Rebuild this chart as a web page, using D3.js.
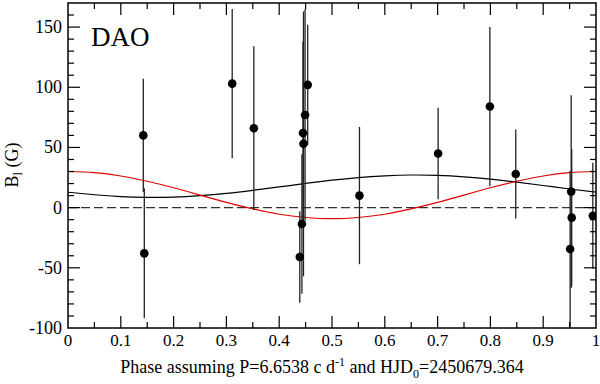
<!DOCTYPE html>
<html>
<head>
<meta charset="utf-8">
<script src="https://cdn.jsdelivr.net/npm/d3@7"></script>
<style>
  body { margin: 0; background: #fff; }
</style>
</head>
<body>
<svg id="chart" width="600" height="384" font-family="'Liberation Serif', 'Times New Roman', Times, 'DejaVu Serif', serif"></svg>
<script>
// observed phases, field and errors
var phase = [0.1426, 0.1445, 0.311, 0.352, 0.439, 0.443, 0.445, 0.446, 0.449, 0.454,
             0.552, 0.701, 0.799, 0.848, 0.951, 0.953, 0.954, 0.994];
var field = [60, -38, 103, 66, -41, -13.6, 62, 53, 77, 102,
             10, 45, 84, 28, -34.4, 13.3, -8.3, -6.7];
var fieldErr = [47, 54, 62, 68, 38, 58, 76, 110, 88, 50,
                57, 38, 66, 37, 65, 80, 57, 44];

// fitted curves
var curvePhase = [0, 0.05, 0.1, 0.15, 0.2, 0.25, 0.3, 0.35, 0.4, 0.45, 0.5,
                  0.55, 0.6, 0.65, 0.7, 0.75, 0.8, 0.85, 0.9, 0.95, 1];
var blackCurve = [12.8, 10.7, 9.2, 8.6, 8.8, 10, 11.9, 14.4, 17.2, 20.1, 22.8,
                  25, 26.4, 27.1, 26.8, 25.6, 23.7, 21.2, 18.4, 15.5, 12.8];
var redCurve = [30, 29, 26.3, 21.9, 16.5, 10.4, 4.3, -1.1, -5.5, -8.2, -9.2,
                -8.2, -5.5, -1.1, 4.3, 10.4, 16.5, 21.9, 26.3, 29, 30];

var xTicks = [0, 0.1, 0.2, 0.3, 0.4, 0.5, 0.6, 0.7, 0.8, 0.9, 1];
var yTicks = [-100, -50, 0, 50, 100, 150];

var svg = d3.select("#chart");
var pLeft = 68, pRight = 596, pTop = 3, pBottom = 328;

var x = d3.scaleLinear().domain([0, 1]).range([pLeft, pRight]);
var y = d3.scaleLinear().domain([-100, 170]).range([pBottom, pTop]);

svg.append("clipPath").attr("id", "plotclip")
    .append("rect")
    .attr("x", pLeft).attr("y", pTop)
    .attr("width", pRight - pLeft).attr("height", pBottom - pTop);

var plot = svg.append("g").attr("clip-path", "url(#plotclip)");

// zero line
plot.append("line")
    .attr("x1", pLeft).attr("x2", pRight)
    .attr("y1", y(0)).attr("y2", y(0))
    .style("stroke", "#333")
    .style("stroke-width", 1.2)
    .style("stroke-dasharray", "9,4");

var line = d3.line()
    .x(function(d) { return x(d[0]); })
    .y(function(d) { return y(d[1]); })
    .curve(d3.curveNatural);

plot.append("path")
    .attr("d", line(d3.zip(curvePhase, blackCurve)))
    .style("fill", "none").style("stroke", "#000").style("stroke-width", 1.2);

plot.append("path")
    .attr("d", line(d3.zip(curvePhase, redCurve)))
    .style("fill", "none").style("stroke", "#e00000").style("stroke-width", 1.2);

var pts = d3.range(phase.length).map(function(i) {
    return { p: phase[i], b: field[i], e: fieldErr[i] };
});

plot.selectAll("line.err")
    .data(pts)
    .enter().append("line")
    .attr("class", "err")
    .attr("x1", function(d) { return x(d.p); })
    .attr("x2", function(d) { return x(d.p); })
    .attr("y1", function(d) { return y(d.b + d.e); })
    .attr("y2", function(d) { return y(d.b - d.e); })
    .style("stroke", "#222")
    .style("stroke-width", 1.3);

plot.selectAll("circle")
    .data(pts)
    .enter().append("circle")
    .attr("cx", function(d) { return x(d.p); })
    .attr("cy", function(d) { return y(d.b); })
    .attr("r", 4.3)
    .style("fill", "#000");

// frame
svg.append("rect")
    .attr("x", pLeft).attr("y", pTop)
    .attr("width", pRight - pLeft).attr("height", pBottom - pTop)
    .style("fill", "none").style("stroke", "#000").style("stroke-width", 1.5);

// ticks pointing inward on all four sides
var xMinor = d3.range(0.05, 1, 0.1);
var yMinor = d3.range(-90, 170, 10).filter(function(v) { return v % 50 != 0; });

function tickSet(vals, len, horiz) {
    vals.forEach(function(v) {
        if (horiz) {
            svg.append("line").attr("x1", x(v)).attr("x2", x(v))
                .attr("y1", pBottom).attr("y2", pBottom - len)
                .style("stroke", "#000").style("stroke-width", 1.2);
            svg.append("line").attr("x1", x(v)).attr("x2", x(v))
                .attr("y1", pTop).attr("y2", pTop + len)
                .style("stroke", "#000").style("stroke-width", 1.2);
        } else {
            svg.append("line").attr("y1", y(v)).attr("y2", y(v))
                .attr("x1", pLeft).attr("x2", pLeft + len)
                .style("stroke", "#000").style("stroke-width", 1.2);
            svg.append("line").attr("y1", y(v)).attr("y2", y(v))
                .attr("x1", pRight).attr("x2", pRight - len)
                .style("stroke", "#000").style("stroke-width", 1.2);
        }
    });
}
tickSet(xTicks.slice(1, -1), 12, true);
tickSet(xMinor, 6, true);
tickSet(yTicks.slice(1), 12, false);
tickSet(yMinor, 6, false);

svg.selectAll("text.xt")
    .data(xTicks)
    .enter().append("text")
    .attr("class", "xt")
    .attr("x", function(d) { return x(d); })
    .attr("y", 346)
    .attr("text-anchor", "middle")
    .style("font-size", "17px")
    .text(function(d) { return d3.format("~g")(d); });

svg.selectAll("text.yt")
    .data(yTicks)
    .enter().append("text")
    .attr("class", "yt")
    .attr("x", 62)
    .attr("y", function(d) { return y(d) + 6; })
    .attr("text-anchor", "end")
    .style("font-size", "18px")
    .text(function(d) { return d; });

// axis titles
var xt = svg.append("text")
    .attr("x", 322).attr("y", 373)
    .attr("text-anchor", "middle")
    .style("font-size", "18px");
xt.append("tspan").text("Phase assuming P=6.6538 c d");
xt.append("tspan").attr("dy", -7).style("font-size", "12px").text("-1");
xt.append("tspan").attr("dy", 7).text(" and HJD");
xt.append("tspan").attr("dy", 5).style("font-size", "12px").text("0");
xt.append("tspan").attr("dy", -5).text("=2450679.364");

var yt = svg.append("text")
    .attr("transform", "translate(18,165) rotate(-90)")
    .attr("text-anchor", "middle")
    .style("font-size", "18px");
yt.append("tspan").text("B");
yt.append("tspan").attr("dy", 4).style("font-size", "12px").text("l");
yt.append("tspan").attr("dy", -4).text(" (G)");

svg.append("text")
    .attr("x", 91).attr("y", 46)
    .style("font-size", "27px")
    .text("DAO");
</script>
</body>
</html>
